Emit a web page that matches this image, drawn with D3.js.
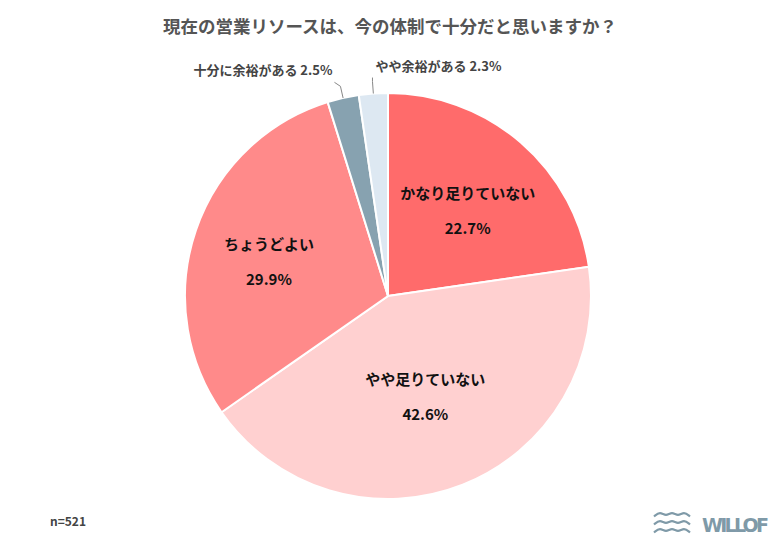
<!DOCTYPE html><html><head><meta charset="utf-8">
<script src="https://cdn.jsdelivr.net/npm/d3@7"></script>
<style>body{margin:0;background:#fff}svg{font-family:"Noto Sans CJK JP",sans-serif;font-weight:bold}</style></head><body>
<svg id="c" width="780" height="545"></svg>
<script>
const categories=["かなり足りていない","やや足りていない","ちょうどよい","十分に余裕がある","やや余裕がある"];
const values=[22.7,42.6,29.9,2.5,2.3];
const colors=["#FF6B6B","#FFD0D0","#FF8A8A","#87A2B0","#DDE8F2"];
const svg=d3.select("#c");
svg.append("text").attr("x",390).attr("y",33).attr("text-anchor","middle").attr("font-size",17.5).attr("fill","#555").text("現在の営業リソースは、今の体制で十分だと思いますか？");
const cx=388,cy=296,r=203;
const g=svg.append("g").attr("transform",`translate(${cx},${cy})`);
const arcs=d3.pie().sort(null)(values);
const arc=d3.arc().innerRadius(0).outerRadius(r);
g.selectAll("path").data(arcs).enter().append("path").attr("d",arc).attr("fill",(d,i)=>colors[i]).attr("stroke","#fff").attr("stroke-width",2);
arcs.slice(0,3).forEach((d,i)=>{const rr=[0.6,0.5,0.62][i];const a=d3.arc().innerRadius(r*rr).outerRadius(r*rr);const [x,y]=a.centroid(d);
 const t=g.append("text").attr("text-anchor","middle").attr("font-size",15).attr("fill","#111");
 t.append("tspan").attr("x",x).attr("y",y-5).text(categories[i]);
 t.append("tspan").attr("x",x).attr("y",y+30).text(values[i].toFixed(1)+"%");});
[[3,"end"],[4,"start"]].forEach(([i,anc])=>{const d=arcs[i];const m=(d.startAngle+d.endAngle)/2;
 const p1=[Math.sin(m)*r,-Math.cos(m)*r];const p2=[Math.sin(m)*(r+12),-Math.cos(m)*(r+12)];
 g.append("polyline").attr("points",[p1,p2,[p2[0]+(anc=="end"?-6:0),p2[1]-4]].map(p=>p.join(",")).join(" ")).attr("fill","none").attr("stroke","#888");
 g.append("text").attr("x",p2[0]+(anc=="end"?-8:3)).attr("y",p2[1]-11).attr("text-anchor",anc).attr("font-size",13).attr("fill","#444").text(categories[i]+" "+values[i]+"%");});
svg.append("text").attr("x",50).attr("y",526).attr("font-size",12).attr("fill","#444").text("n=521");
const lg=svg.append("g").attr("transform","translate(654,514)");
[0,8,16].forEach(y=>lg.append("path").attr("d",d3.line().curve(d3.curveBasis)(d3.range(0,7).map(k=>[k*6,y+(k%2?-2.5:2.5)]))).attr("fill","none").attr("stroke","#7F9AA8").attr("stroke-width",2.2));
svg.append("text").attr("x",769).attr("y",532).attr("text-anchor","end").attr("font-size",19).attr("font-family","DejaVu Sans").attr("font-weight","bold").attr("textLength",67).attr("fill","#7F9AA8").text("WILLOF");
</script></body></html>
